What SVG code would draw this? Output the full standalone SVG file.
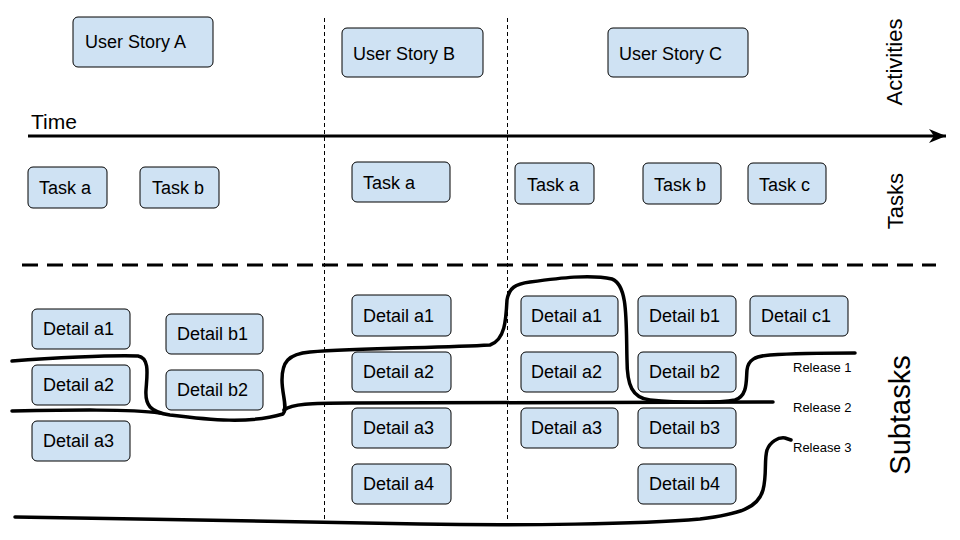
<svg xmlns="http://www.w3.org/2000/svg" width="960" height="540" viewBox="0 0 960 540">
<defs>
<style>
.box{fill:#cfe2f3;stroke:#000;stroke-width:1}
.t{font-family:"Liberation Sans",Arial,sans-serif;font-size:18px;fill:#000}
.lbl{font-family:"Liberation Sans",Arial,sans-serif;fill:#000}
.rel{fill:none;stroke:#000;stroke-width:3.5;stroke-linecap:round;stroke-linejoin:round}
.vdash{stroke:#000;stroke-width:1;stroke-dasharray:4 3}
</style>
<marker id="arrow" markerWidth="18" markerHeight="16" refX="17" refY="8" orient="auto" markerUnits="userSpaceOnUse">
<path d="M0,1 L17,8 L0,15 L5,8 Z" fill="#000"/>
</marker>
</defs>
<rect width="960" height="540" fill="#fff"/>

<g id="guides">
<line class="vdash" x1="324.5" y1="18" x2="324.5" y2="521"/>
<line class="vdash" x1="507.5" y1="18" x2="507.5" y2="521"/>
<line x1="22" y1="265" x2="936" y2="265" stroke="#000" stroke-width="3" stroke-dasharray="16 9"/>
</g>

<g id="connectors">
<line id="time-axis" x1="28" y1="136" x2="946" y2="136" stroke="#000" stroke-width="3" marker-end="url(#arrow)"/>
<path id="release1" class="rel" d="M12,361 C50,358 110,355 138,356 C150,358 147,375 146,390 C145,405 150,412 170,415 C210,420 250,424 283,414 C288,408 282,395 282,380 C282,362 288,354 310,352 C360,348 440,348 490,345 C505,340 506,320 507,300 C509,288 515,284 530,282 C560,278 590,274 612,279 C628,285 626,320 627,360 C627,385 632,398 650,400 C680,403 720,403 735,400 C748,396 746,380 747,370 C748,360 755,356 770,355 C800,353 830,353 855,353"/>
<path id="release2" class="rel" d="M12,411 C70,410 130,409 160,413 M284,410 C292,404 310,403 350,403 C500,402 650,402 773,402"/>
<path id="release3" class="rel" d="M15,517 C150,519 300,522 420,524 C520,526 640,524 700,519 C740,514 758,508 763,490 C767,475 764,460 767,450 C770,442 778,437 785,438 L791,440"/>
</g>

<g id="labels" class="lbl">
<text x="31" y="129" font-size="21">Time</text>
<text x="793" y="372" font-size="13">Release 1</text>
<text x="793" y="412" font-size="13">Release 2</text>
<text x="793" y="452" font-size="13">Release 3</text>
<text transform="translate(902,62) rotate(-90)" text-anchor="middle" font-size="22">Activities</text>
<text transform="translate(903,201) rotate(-90)" text-anchor="middle" font-size="22">Tasks</text>
<text transform="translate(910,415) rotate(-90)" text-anchor="middle" font-size="29">Subtasks</text>
</g>

<g id="story-a"><rect class="box" x="73" y="17" width="140" height="50" rx="5"/><text class="t" x="85" y="48">User Story A</text></g>
<g id="story-b"><rect class="box" x="342" y="28" width="141" height="49" rx="5"/><text class="t" x="353" y="60">User Story B</text></g>
<g id="story-c"><rect class="box" x="608" y="28" width="140" height="49" rx="5"/><text class="t" x="619" y="60">User Story C</text></g>

<g id="a-task-a"><rect class="box" x="28" y="167" width="79" height="41" rx="5"/><text class="t" x="39" y="194">Task a</text></g>
<g id="a-task-b"><rect class="box" x="140" y="167" width="79" height="41" rx="5"/><text class="t" x="152" y="194">Task b</text></g>
<g id="b-task-a"><rect class="box" x="352" y="162" width="98" height="40" rx="5"/><text class="t" x="363" y="189">Task a</text></g>
<g id="c-task-a"><rect class="box" x="515" y="163" width="79" height="41" rx="5"/><text class="t" x="527" y="191">Task a</text></g>
<g id="c-task-b"><rect class="box" x="643" y="163" width="78" height="41" rx="5"/><text class="t" x="654" y="191">Task b</text></g>
<g id="c-task-c"><rect class="box" x="748" y="163" width="78" height="41" rx="5"/><text class="t" x="759" y="191">Task c</text></g>

<g id="a-detail-a1"><rect class="box" x="32" y="309" width="98" height="40" rx="5"/><text class="t" x="43" y="335">Detail a1</text></g>
<g id="a-detail-a2"><rect class="box" x="32" y="365" width="98" height="40" rx="5"/><text class="t" x="43" y="391">Detail a2</text></g>
<g id="a-detail-a3"><rect class="box" x="32" y="421" width="98" height="40" rx="5"/><text class="t" x="43" y="447">Detail a3</text></g>
<g id="a-detail-b1"><rect class="box" x="166" y="314" width="97" height="40" rx="5"/><text class="t" x="177" y="340">Detail b1</text></g>
<g id="a-detail-b2"><rect class="box" x="166" y="370" width="97" height="40" rx="5"/><text class="t" x="177" y="396">Detail b2</text></g>

<g id="b-detail-a1"><rect class="box" x="352" y="295" width="99" height="41" rx="5"/><text class="t" x="363" y="322">Detail a1</text></g>
<g id="b-detail-a2"><rect class="box" x="352" y="352" width="99" height="40" rx="5"/><text class="t" x="363" y="378">Detail a2</text></g>
<g id="b-detail-a3"><rect class="box" x="352" y="408" width="99" height="40" rx="5"/><text class="t" x="363" y="434">Detail a3</text></g>
<g id="b-detail-a4"><rect class="box" x="352" y="464" width="99" height="40" rx="5"/><text class="t" x="363" y="490">Detail a4</text></g>

<g id="c-detail-a1"><rect class="box" x="521" y="296" width="97" height="40" rx="5"/><text class="t" x="531" y="322">Detail a1</text></g>
<g id="c-detail-a2"><rect class="box" x="521" y="352" width="97" height="40" rx="5"/><text class="t" x="531" y="378">Detail a2</text></g>
<g id="c-detail-a3"><rect class="box" x="521" y="408" width="97" height="40" rx="5"/><text class="t" x="531" y="434">Detail a3</text></g>
<g id="c-detail-b1"><rect class="box" x="638" y="296" width="98" height="40" rx="5"/><text class="t" x="649" y="322">Detail b1</text></g>
<g id="c-detail-b2"><rect class="box" x="638" y="352" width="98" height="40" rx="5"/><text class="t" x="649" y="378">Detail b2</text></g>
<g id="c-detail-b3"><rect class="box" x="638" y="408" width="98" height="40" rx="5"/><text class="t" x="649" y="434">Detail b3</text></g>
<g id="c-detail-b4"><rect class="box" x="638" y="464" width="98" height="40" rx="5"/><text class="t" x="649" y="490">Detail b4</text></g>
<g id="c-detail-c1"><rect class="box" x="750" y="296" width="98" height="40" rx="5"/><text class="t" x="761" y="322">Detail c1</text></g>
</svg>
